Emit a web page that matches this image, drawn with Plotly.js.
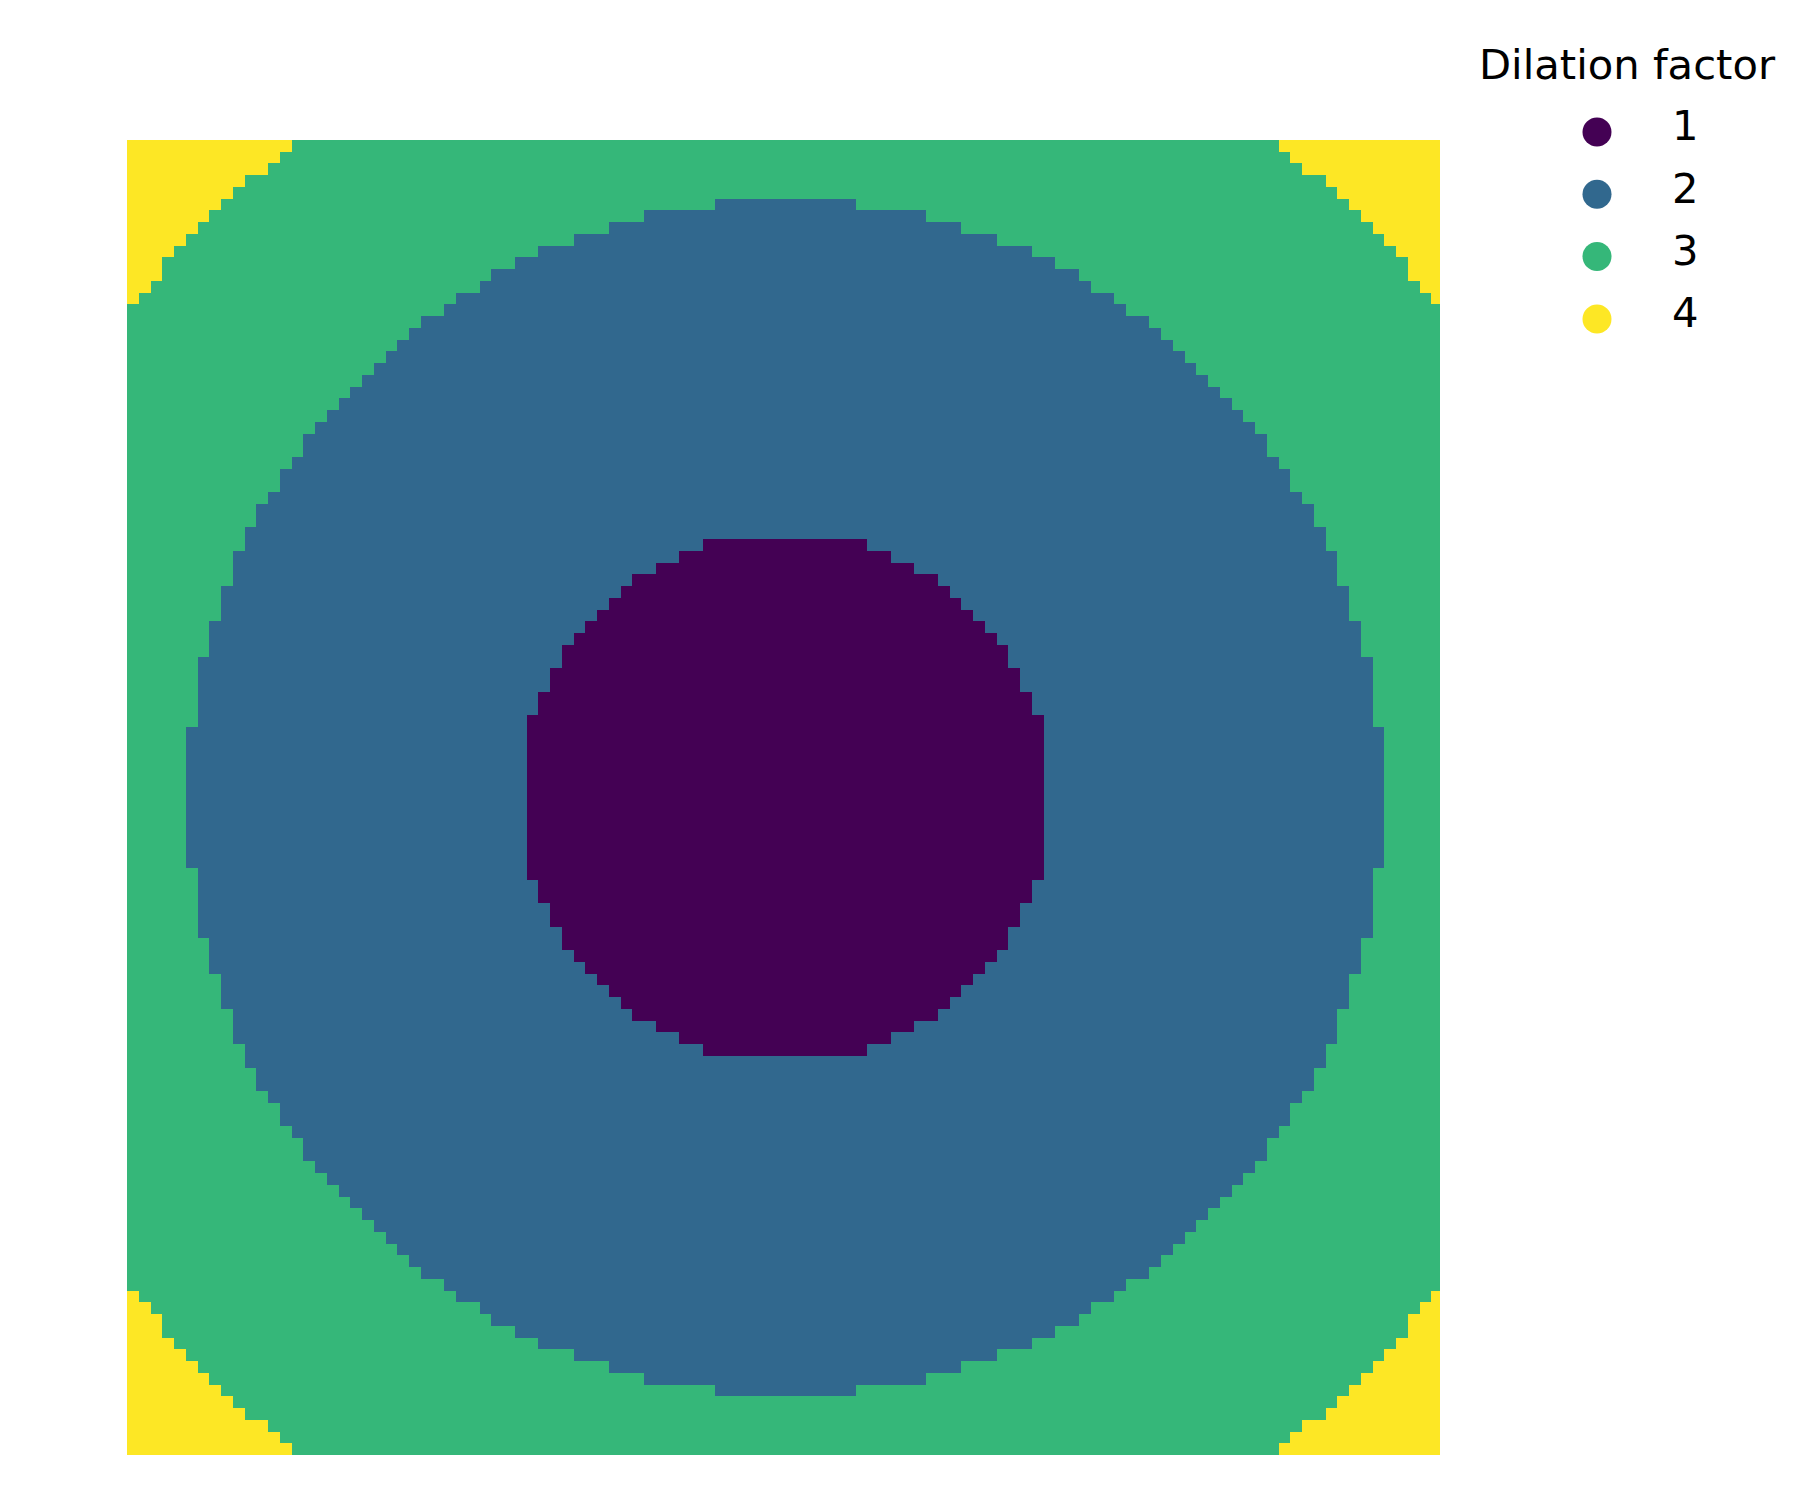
<!DOCTYPE html>
<html><head><meta charset="utf-8">
<script src="https://cdn.plot.ly/plotly-3.0.1.min.js"></script>
<style>body{margin:0;background:#fff}#chart{width:1800px;height:1500px}</style>
</head><body><div id="chart"></div>
<script>
// Legend categories and colours (viridis, 4 levels)
const categories = [1, 2, 3, 4];
const colors = ['#440154', '#31688e', '#35b779', '#fde725'];
const legendTitle = 'Dilation factor';

// Grid of 112 x 112 cells. For each row offset from the centre (0 = centre rows, 55 = edge rows),
// number of cells from the centre that are factor 1 (purple) and factor <=2 (blue),
// and number of cells from the outer edge that are factor 4 (yellow).
const gridSize = 112;
const purpleHalf = [22,22,22,22,22,22,22,21,21,20,20,19,19,18,17,16,15,14,13,11,9,7,
  0,0,0,0,0,0,0,0,0,0,0,0,0,0,0,0,0,0,0,0,0,0,0,0,0,0,0,0,0,0,0,0,0,0];
const blueHalf = [51,51,51,51,51,51,50,50,50,50,50,50,49,49,49,48,48,48,47,47,47,46,46,45,45,44,
  43,43,42,41,41,40,39,38,37,36,35,34,33,32,31,29,28,26,25,23,21,18,15,12,6,0,0,0,0,0];
const yellowOuter = [0,0,0,0,0,0,0,0,0,0,0,0,0,0,0,0,0,0,0,0,0,0,0,0,0,0,0,0,0,0,0,0,0,0,0,0,0,0,0,0,0,0,
  1,2,3,3,4,5,6,7,8,9,10,12,13,14];

const half = gridSize / 2;
const z = [];
for (let r = 0; r < gridSize; r++) {
  const b = r < half ? half - 1 - r : r - half;
  const row = [];
  for (let c = 0; c < gridSize; c++) {
    const a = c < half ? half - 1 - c : c - half;
    let v;
    if (a < purpleHalf[b]) v = categories[0];
    else if (a < blueHalf[b]) v = categories[1];
    else if (a >= half - yellowOuter[b]) v = categories[3];
    else v = categories[2];
    row.push(v);
  }
  z.push(row);
}

const colorscale = [];
categories.forEach((c, i) => {
  colorscale.push([i / categories.length, colors[i]]);
  colorscale.push([(i + 1) / categories.length, colors[i]]);
});

const font = {family: 'DejaVu Sans, sans-serif', size: 41.7, color: '#000'};

const heat = {
  type: 'heatmap', z: z, colorscale: colorscale,
  zmin: 0.5, zmax: 4.5, showscale: false, hoverinfo: 'z',
  xaxis: 'x', yaxis: 'y'
};

const legendPts = {
  type: 'scatter', mode: 'markers',
  x: categories.map(() => 0), y: categories.map((c, i) => i),
  marker: {color: colors, size: 29, line: {width: 0}},
  xaxis: 'x2', yaxis: 'y2', showlegend: false, hoverinfo: 'skip', cliponaxis: false
};

const annotations = categories.map((c, i) => ({
  xref: 'x2', yref: 'y2', x: 73, y: i - 0.10, text: String(c),
  showarrow: false, xanchor: 'left', yanchor: 'middle', font: font
}));
annotations.push({
  xref: 'x2', yref: 'y2', x: -120, y: -1.09, text: legendTitle,
  showarrow: false, xanchor: 'left', yanchor: 'middle', font: font
});

const hidden = {visible: false, showgrid: false, zeroline: false, showticklabels: false, fixedrange: true};

const layout = {
  width: 1800, height: 1500,
  margin: {l: 0, r: 0, t: 0, b: 0, pad: 0},
  paper_bgcolor: '#fff', plot_bgcolor: '#fff',
  showlegend: false,
  xaxis: Object.assign({}, hidden, {domain: [127/1800, 1443/1800], range: [-0.5, gridSize - 0.5]}),
  yaxis: Object.assign({}, hidden, {domain: [1 - 1455/1500, 1 - 140/1500], range: [gridSize - 0.5, -0.5]}),
  xaxis2: Object.assign({}, hidden, {domain: [1440/1800, 1], range: [-157, 203], anchor: 'y2'}),
  yaxis2: Object.assign({}, hidden, {domain: [0, 1], range: [21.96, -2.119], anchor: 'x2'}),
  annotations: annotations
};

Plotly.newPlot('chart', [heat, legendPts], layout, {staticPlot: true, displayModeBar: false});
</script>
</body></html>
